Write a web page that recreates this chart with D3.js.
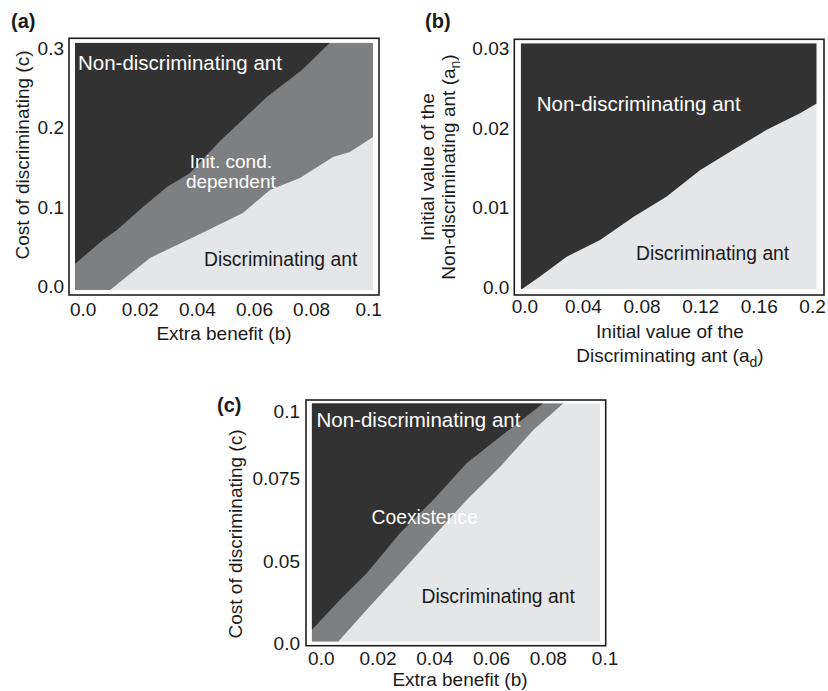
<!DOCTYPE html>
<html><head><meta charset="utf-8">
<script src="https://cdn.jsdelivr.net/npm/d3@7"></script>
<style>html,body{margin:0;padding:0;background:#fff}</style>
</head><body><svg id="chart" width="828" height="691"></svg>
<script>
// ---------------- data ----------------
// Panel (a): extra benefit b (x) vs cost of discriminating c (y)
const aXTicks = [0, 0.02, 0.04, 0.06, 0.08, 0.1];
const aXTickLabels = ["0.0", "0.02", "0.04", "0.06", "0.08", "0.1"];
const aYTicks = [0, 0.1, 0.2, 0.3];
const aYTickLabels = ["0.0", "0.1", "0.2", "0.3"];
// boundary between Non-discriminating region (above) and init-cond-dependent region
const aNonBoundary = [[-0.0027,0.0286],[0.0071,0.0588],[0.0120,0.0714],[0.0211,0.1003],[0.0295,0.1255],[0.0376,0.1431],[0.0481,0.1834],[0.0645,0.2387],[0.0768,0.2727],[0.0866,0.307]];
// boundary between init-cond-dependent region (above) and Discriminating region
const aDisBoundary = [[0.0096,-0.0042],[0.0148,0.0110],[0.0236,0.0362],[0.0323,0.0512],[0.0411,0.0663],[0.0561,0.0927],[0.0656,0.1217],[0.0761,0.1368],[0.0877,0.1632],[0.0936,0.1695],[0.1017,0.1884]];

// Panel (b): initial value of discriminating ant a_d (x) vs non-discriminating a_n (y)
const bXTicks = [0, 0.04, 0.08, 0.12, 0.16, 0.2];
const bXTickLabels = ["0.0", "0.04", "0.08", "0.12", "0.16", "0.2"];
const bYTicks = [0, 0.01, 0.02, 0.03];
const bYTickLabels = ["0.0", "0.01", "0.02", "0.03"];
const bBoundary = [[-0.0018,-0.0003],[0.0107,0.0013],[0.0289,0.0038],[0.0517,0.0059],[0.0744,0.0088],[0.0972,0.0114],[0.1199,0.0147],[0.1427,0.0173],[0.1655,0.0198],[0.1882,0.0219],[0.1996,0.0231]];

// Panel (c): extra benefit b (x) vs cost c (y)
const cXTicks = [0, 0.02, 0.04, 0.06, 0.08, 0.1];
const cXTickLabels = ["0.0", "0.02", "0.04", "0.06", "0.08", "0.1"];
const cYTicks = [0, 0.0354, 0.071, 0.1];
const cYTickLabels = ["0.0", "0.05", "0.075", "0.1"];
const cNonBoundary = [[-0.0032,0.0057],[0.0067,0.0186],[0.0161,0.0301],[0.0279,0.0474],[0.0396,0.0617],[0.0514,0.0775],[0.0632,0.0889],[0.0784,0.1033]];
const cDisBoundary = [[0.0061,0.0007],[0.0161,0.0143],[0.0279,0.0301],[0.0396,0.0459],[0.0514,0.0617],[0.0632,0.0760],[0.0749,0.0918],[0.0855,0.1033]];

// ---------------- style ----------------
const FONT = "'Liberation Sans', Arial, Helvetica, sans-serif";
const COL_NON = "#323232", COL_MID = "#7e7f81", COL_DIS = "#e5e6e8";
const TXT = "#1a1a1a";

const svg = d3.select("#chart");

function drawPanel(cfg) {
  const g = svg.append("g");
  const x = d3.scaleLinear().domain(cfg.xDomain).range([cfg.box[0], cfg.box[2]]);
  const y = d3.scaleLinear().domain(cfg.yDomain).range([cfg.box[3], cfg.box[1]]);
  // frame
  g.append("rect")
    .attr("x", cfg.frame[0]).attr("y", cfg.frame[1])
    .attr("width", cfg.frame[2] - cfg.frame[0]).attr("height", cfg.frame[3] - cfg.frame[1])
    .attr("fill", "#fff").attr("stroke", "#1e1e1e").attr("stroke-width", 1.6);
  const clipId = "clip" + cfg.id;
  g.append("clipPath").attr("id", clipId).append("rect")
    .attr("x", x(cfg.xDomain[0])).attr("y", y(cfg.yDomain[1]))
    .attr("width", x(cfg.xDomain[1]) - x(cfg.xDomain[0]))
    .attr("height", y(cfg.yDomain[0]) - y(cfg.yDomain[1]));
  const plot = g.append("g").attr("clip-path", `url(#${clipId})`);
  // base region
  plot.append("rect")
    .attr("x", x(cfg.xDomain[0])).attr("y", y(cfg.yDomain[1]))
    .attr("width", x(cfg.xDomain[1]) - x(cfg.xDomain[0]))
    .attr("height", y(cfg.yDomain[0]) - y(cfg.yDomain[1]))
    .attr("fill", cfg.baseColor);
  const line = d3.line().x(d => x(d[0])).y(d => y(d[1]));
  cfg.layers.forEach(L => {
    const pts = L.boundary;
    const x0 = cfg.xDomain[0], yTop = cfg.yDomain[1];
    const poly = [[x0, yTop], [x0, pts[0][1]], ...pts, [pts[pts.length - 1][0], yTop]];
    plot.append("path").attr("d", line(poly) + "Z").attr("fill", L.color);
  });
  // axes
  const xa = g.append("g").attr("transform", `translate(0,${cfg.frame[3]})`)
    .call(d3.axisBottom(x).tickValues(cfg.xTicks).tickFormat((d, i) => cfg.xLabels[i]).tickSize(0).tickPadding(cfg.xPad));
  const ya = g.append("g").attr("transform", `translate(${cfg.frame[0]},0)`)
    .call(d3.axisLeft(y).tickValues(cfg.yTicks).tickFormat((d, i) => cfg.yLabels[i]).tickSize(0).tickPadding(cfg.yPad));
  [xa, ya].forEach(a => {
    a.select(".domain").remove();
    a.attr("font-size", 19).attr("font-family", FONT).attr("color", TXT);
  });
  if (cfg.lastXEnd) {
    // keep the last tick label inside the page, right-aligned like the reference
    xa.selectAll(".tick").filter((d, i, n) => i === n.length - 1).select("text")
      .attr("text-anchor", "end").attr("x", cfg.lastXEnd);
  }
  // annotations
  cfg.notes.forEach(n => {
    const t = g.append("text")
      .attr("x", x(n.at[0])).attr("y", y(n.at[1]))
      .attr("font-family", FONT).attr("font-size", n.size)
      .attr("fill", n.color).attr("text-anchor", n.anchor || "start");
    n.lines.forEach((s, i) => {
      t.append("tspan").attr("x", x(n.at[0])).attr("dy", i === 0 ? 0 : n.lh).text(s);
    });
  });
  return {x, y, g};
}

function richText(sel, parts) {
  let shiftBack = 0;
  parts.forEach(p => {
    if (p.sub) {
      sel.append("tspan").attr("font-size", 14).attr("dy", 5).text(p.sub);
      shiftBack = -5;
    } else {
      const ts = sel.append("tspan").text(p.t);
      if (shiftBack) { ts.attr("dy", shiftBack); shiftBack = 0; }
    }
  });
}

function panelLabel(txt, px, py) {
  svg.append("text").attr("x", px).attr("y", py)
    .attr("font-family", FONT).attr("font-size", 20).attr("font-weight", "bold")
    .attr("fill", TXT).text(txt);
}

function title(lines, cx, cy, rotate) {
  lines.forEach((parts, i) => {
    const t = svg.append("text").attr("font-family", FONT).attr("font-size", 19)
      .attr("fill", TXT).attr("text-anchor", "middle");
    if (rotate) {
      t.attr("transform", `translate(${cx + i * 21},${cy}) rotate(-90)`);
    } else {
      t.attr("x", cx).attr("y", cy + i * 23.4);
    }
    richText(t, parts);
  });
}

// ---------- Panel (a) ----------
drawPanel({
  id: "a",
  box: [75, 42.7, 373, 290], frame: [69, 38.3, 379, 295],
  xDomain: [-0.0027, 0.1017], yDomain: [-0.0042, 0.307],
  xTicks: aXTicks, xLabels: aXTickLabels, yTicks: aYTicks, yLabels: aYTickLabels,
  xPad: 8, yPad: 5,
  baseColor: COL_DIS,
  layers: [{boundary: aDisBoundary, color: COL_MID}, {boundary: aNonBoundary, color: COL_NON}],
  notes: [
    {lines: ["Non-discriminating ant"], at: [-0.00165, 0.2727], size: 20.5, color: "#fff"},
    {lines: ["Init. cond.", "dependent"], at: [0.0519, 0.149], size: 19, color: "#fff", anchor: "middle", lh: 20},
    {lines: ["Discriminating ant"], at: [0.0425, 0.026], size: 19.3, color: TXT}
  ]
});
panelLabel("(a)", 11, 28);
title([[{t: "Extra benefit (b)"}]], 224, 340, false);
title([[{t: "Cost of discriminating (c)"}]], 29, 155, true);

// ---------- Panel (b) ----------
drawPanel({
  id: "b",
  box: [520.7, 43.3, 816.7, 289.3], frame: [514.3, 39.3, 824, 295],
  xDomain: [-0.0025, 0.1996], yDomain: [-0.0003, 0.0307],
  xTicks: bXTicks, xLabels: bXTickLabels, yTicks: bYTicks, yLabels: bYTickLabels,
  xPad: 5, yPad: 5, lastXEnd: 8,
  baseColor: COL_DIS,
  layers: [{boundary: bBoundary, color: COL_NON}],
  notes: [
    {lines: ["Non-discriminating ant"], at: [0.00846, 0.0222], size: 20.5, color: "#fff"},
    {lines: ["Discriminating ant"], at: [0.0762, 0.00337], size: 19.3, color: TXT}
  ]
});
panelLabel("(b)", 425, 28);
title([[{t: "Initial value of the"}], [{t: "Discriminating ant (a"}, {sub: "d"}, {t: ")"}]], 670, 338.3, false);
title([[{t: "Initial value of the"}], [{t: "Non-discriminating ant (a"}, {sub: "n"}, {t: ")"}]], 433.5, 167, true);

// ---------- Panel (c) ----------
drawPanel({
  id: "c",
  box: [311.7, 403.3, 600, 641.7], frame: [306, 400, 605.7, 645.7],
  xDomain: [-0.0032, 0.0984], yDomain: [0.0007, 0.1033],
  xTicks: cXTicks, xLabels: cXTickLabels, yTicks: cYTicks, yLabels: cYTickLabels,
  xPad: 6, yPad: 6,
  baseColor: COL_DIS,
  layers: [{boundary: cDisBoundary, color: COL_MID}, {boundary: cNonBoundary, color: COL_NON}],
  notes: [
    {lines: ["Non-discriminating ant"], at: [-0.0015, 0.093], size: 20.5, color: "#fff"},
    {lines: ["Coexistence"], at: [0.0179, 0.0514], size: 19.3, color: "#fff"},
    {lines: ["Discriminating ant"], at: [0.0355, 0.0172], size: 19.3, color: TXT}
  ]
});
panelLabel("(c)", 217, 412);
title([[{t: "Extra benefit (b)"}]], 460, 686, false);
title([[{t: "Cost of discriminating (c)"}]], 242, 534, true);
</script>
</body></html>
